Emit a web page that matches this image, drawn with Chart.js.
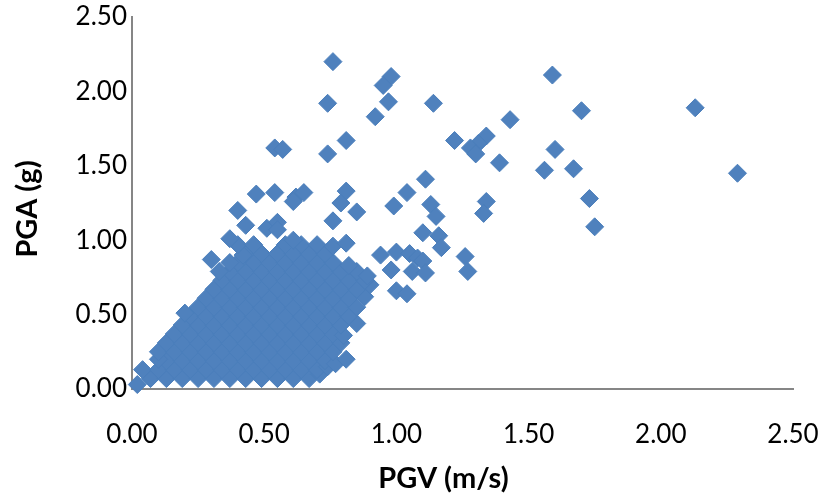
<!DOCTYPE html>
<html>
<head>
<meta charset="utf-8">
<title>PGA vs PGV</title>
<script src="https://cdn.jsdelivr.net/npm/chart.js@4.4.1/dist/chart.umd.min.js"></script>
<style>
  html, body { margin: 0; padding: 0; background: #fff; }
  #chart { display: block; }
</style>
</head>
<body>
<canvas id="chart" width="823" height="502"></canvas>
<script>
/* PGA vs PGV scatter */
const xTitle = 'PGV (m/s)';
const yTitle = 'PGA (g)';
const xTickLabels = ['0.00', '0.50', '1.00', '1.50', '2.00', '2.50'];
const yTickLabels = ['0.00', '0.50', '1.00', '1.50', '2.00', '2.50'];

// dense part of the cloud, one line per band of PGA (edge records at the end of a line)
const clusterPgv = [
  0.07, 0.13, 0.19, 0.25, 0.31, 0.37, 0.43, 0.49, 0.55, 0.61, 0.67, 0.02, 0.71,
  0.04, 0.10, 0.16, 0.22, 0.28, 0.34, 0.40, 0.46, 0.52, 0.58, 0.64, 0.70, 0.74,
  0.13, 0.19, 0.25, 0.31, 0.37, 0.43, 0.49, 0.55, 0.61, 0.67, 0.73, 0.10, 0.77, 0.81,
  0.10, 0.16, 0.22, 0.28, 0.34, 0.40, 0.46, 0.52, 0.58, 0.64, 0.70, 0.76,
  0.13, 0.19, 0.25, 0.31, 0.37, 0.43, 0.49, 0.55, 0.61, 0.67, 0.73, 0.79,
  0.16, 0.22, 0.28, 0.34, 0.40, 0.46, 0.52, 0.58, 0.64, 0.70, 0.76, 0.80,
  0.19, 0.25, 0.31, 0.37, 0.43, 0.49, 0.55, 0.61, 0.67, 0.73, 0.79, 0.85,
  0.22, 0.28, 0.34, 0.40, 0.46, 0.52, 0.58, 0.64, 0.70, 0.76, 0.82, 0.20,
  0.25, 0.31, 0.37, 0.43, 0.49, 0.55, 0.61, 0.67, 0.73, 0.79, 0.85,
  0.28, 0.34, 0.40, 0.46, 0.52, 0.58, 0.64, 0.70, 0.76, 0.82, 0.88,
  0.31, 0.37, 0.43, 0.49, 0.55, 0.61, 0.67, 0.73, 0.79, 0.85, 0.90,
  0.34, 0.40, 0.46, 0.52, 0.58, 0.64, 0.70, 0.76, 0.82, 0.88,
  0.37, 0.43, 0.49, 0.55, 0.61, 0.67, 0.73, 0.79, 0.85, 0.33, 0.89,
  0.40, 0.46, 0.52, 0.58, 0.64, 0.70, 0.76, 0.82, 0.37,
  0.43, 0.49, 0.55, 0.61, 0.67, 0.73, 0.42,
  0.40, 0.46, 0.58, 0.64, 0.70, 0.76, 0.37, 0.61, 0.81,
];
const clusterPga = [
  0.07, 0.07, 0.07, 0.07, 0.07, 0.07, 0.07, 0.07, 0.07, 0.07, 0.07, 0.03, 0.10,
  0.13, 0.13, 0.13, 0.13, 0.13, 0.13, 0.13, 0.13, 0.13, 0.13, 0.13, 0.13, 0.15,
  0.19, 0.19, 0.19, 0.19, 0.19, 0.19, 0.19, 0.19, 0.19, 0.19, 0.19, 0.20, 0.17, 0.20,
  0.25, 0.25, 0.25, 0.25, 0.25, 0.25, 0.25, 0.25, 0.25, 0.25, 0.25, 0.25,
  0.31, 0.31, 0.31, 0.31, 0.31, 0.31, 0.31, 0.31, 0.31, 0.31, 0.31, 0.31,
  0.37, 0.37, 0.37, 0.37, 0.37, 0.37, 0.37, 0.37, 0.37, 0.37, 0.37, 0.36,
  0.43, 0.43, 0.43, 0.43, 0.43, 0.43, 0.43, 0.43, 0.43, 0.43, 0.43, 0.44,
  0.49, 0.49, 0.49, 0.49, 0.49, 0.49, 0.49, 0.49, 0.49, 0.49, 0.49, 0.51,
  0.55, 0.55, 0.55, 0.55, 0.55, 0.55, 0.55, 0.55, 0.55, 0.55, 0.55,
  0.61, 0.61, 0.61, 0.61, 0.61, 0.61, 0.61, 0.61, 0.61, 0.61, 0.62,
  0.67, 0.67, 0.67, 0.67, 0.67, 0.67, 0.67, 0.67, 0.67, 0.67, 0.70,
  0.73, 0.73, 0.73, 0.73, 0.73, 0.73, 0.73, 0.73, 0.73, 0.73,
  0.79, 0.79, 0.79, 0.79, 0.79, 0.79, 0.79, 0.79, 0.79, 0.79, 0.76,
  0.85, 0.85, 0.85, 0.85, 0.85, 0.85, 0.85, 0.83, 0.85,
  0.91, 0.91, 0.91, 0.91, 0.91, 0.91, 0.90,
  0.97, 0.97, 0.97, 0.97, 0.97, 0.96, 1.01, 1.00, 0.98,
];

// scattered records above and to the right of the cloud
const outlierPgv = [
  0.76, 0.98, 0.95, 0.74, 0.97, 1.14, 0.92, 0.54, 0.57, 0.74, 0.81, 1.22,
  1.59, 1.70, 2.13, 1.43, 1.34, 1.31, 1.28, 1.30, 1.39, 1.60, 1.56, 1.67, 1.73, 2.29, 1.34, 1.33, 1.75, 1.26, 1.27,
  0.47, 0.54, 0.62, 0.65, 0.61, 0.81, 0.79, 0.85, 0.99, 1.04, 1.11, 1.13, 1.15, 0.76, 0.40, 0.43, 0.51, 0.55, 0.55,
  1.10, 1.16, 1.17, 0.94, 1.00, 1.05, 1.08, 1.10, 0.98, 1.06, 1.11, 1.00, 1.04, 0.30,
];
const outlierPga = [
  2.20, 2.10, 2.04, 1.92, 1.93, 1.92, 1.83, 1.62, 1.61, 1.58, 1.67, 1.67,
  2.11, 1.87, 1.89, 1.81, 1.70, 1.65, 1.62, 1.58, 1.52, 1.61, 1.47, 1.48, 1.28, 1.45, 1.26, 1.18, 1.09, 0.89, 0.79,
  1.31, 1.32, 1.29, 1.32, 1.26, 1.33, 1.25, 1.19, 1.23, 1.32, 1.41, 1.24, 1.16, 1.13, 1.20, 1.10, 1.08, 1.12, 1.07,
  1.05, 1.03, 0.95, 0.90, 0.92, 0.91, 0.88, 0.86, 0.80, 0.79, 0.78, 0.66, 0.64, 0.87,
];

const FONT = 'Lato';
const toPoints = (xs, ys) => xs.map((x, i) => ({ x, y: ys[i] }));

// axis titles drawn by hand so they can sit where Excel put them
const axisTitles = {
  id: 'axisTitles',
  afterDraw(chart) {
    const { ctx, chartArea } = chart;
    ctx.save();
    ctx.fillStyle = '#000';
    ctx.font = `bold 29px ${FONT}`;
    ctx.textAlign = 'center';
    ctx.textBaseline = 'middle';
    ctx.fillText(xTitle, (chartArea.left + chartArea.right) / 2 - 19, chart.height - 23);
    ctx.translate(28, (chartArea.top + chartArea.bottom) / 2 + 6);
    ctx.rotate(-Math.PI / 2);
    ctx.fillText(yTitle, 0, 0);
    ctx.restore();
  },
};

// tick marks are kept invisible; their length only spaces the labels off the axis
function axis(labels, gap, fit) {
  return {
    type: 'linear', min: 0, max: 2.5,
    ticks: { stepSize: 0.5, color: '#000', padding: 1, font: { family: FONT, size: 26 },
      callback: (v, i) => labels[i] },
    grid: { display: true, drawOnChartArea: false, drawTicks: true, tickLength: gap, color: 'rgba(0,0,0,0)' },
    border: { display: true, color: '#868686', width: 2 },
    afterFit: fit,
  };
}

function draw() {
  new Chart(document.getElementById('chart'), {
    type: 'scatter',
    data: {
      datasets: [{
        data: toPoints(clusterPgv, clusterPga).concat(toPoints(outlierPgv, outlierPga)),
        pointStyle: 'rectRot', pointRadius: 9, pointHoverRadius: 9,
        backgroundColor: '#4F81BD', borderColor: '#4A7EBB', borderWidth: 1,
        clip: false,
      }],
    },
    options: {
      responsive: false, animation: false, events: [],
      layout: { padding: { top: 17, right: 30, left: 0, bottom: 0 } },
      plugins: { legend: { display: false }, tooltip: { enabled: false } },
      scales: {
        x: axis(xTickLabels, 29, (s) => { s.height = 113; }),
        y: axis(yTickLabels, 4, (s) => { s.width = 132; }),
      },
    },
    plugins: [axisTitles],
  });
}

Promise.all([document.fonts.load(`26px ${FONT}`), document.fonts.load(`bold 29px ${FONT}`)])
  .then(draw, draw);
</script>
</body>
</html>
